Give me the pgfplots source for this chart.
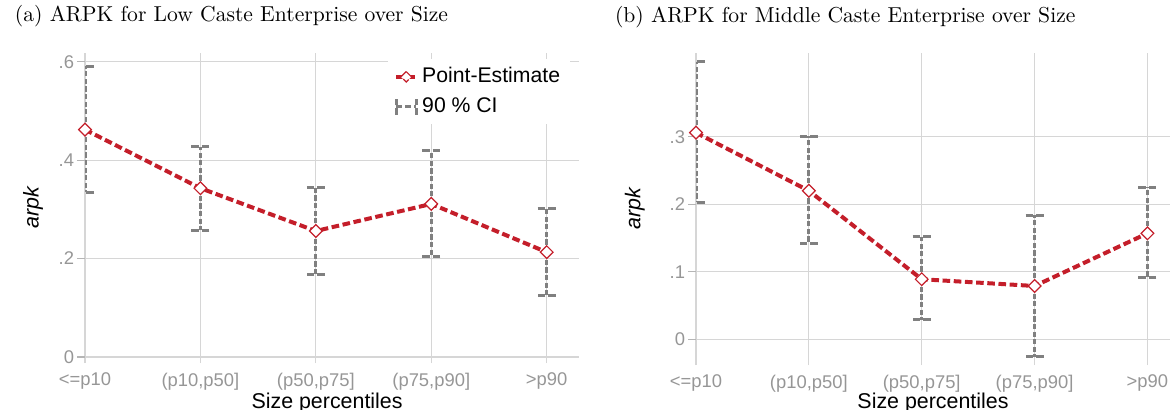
\documentclass[border=0pt]{standalone}
\usepackage{fontspec}
\newfontfamily\sans{Liberation Sans}
\usepackage{pgfplots}
\usepackage{pgfplotstable}
\pgfplotsset{compat=1.18}

\definecolor{estred}{RGB}{196,30,42}
\definecolor{cigray}{RGB}{128,128,128}
\definecolor{gridgray}{RGB}{214,214,214}
\definecolor{labgray}{RGB}{150,150,150}

% x = size class, y = point estimate, lo/hi = 90% CI
\pgfplotstableread{
x y lo hi
0 0.462 0.335 0.591
1 0.343 0.258 0.427
2 0.256 0.167 0.345
3 0.311 0.205 0.419
4 0.213 0.124 0.302
}\lowcaste

\pgfplotstableread{
x y lo hi
0 0.306 0.203 0.411
1 0.220 0.142 0.301
2 0.089 0.029 0.152
3 0.079 -0.026 0.184
4 0.157 0.091 0.225
}\midcaste

\pgfplotsset{
  arpkpanel/.style={
    scale only axis,
    anchor=south west,
    xmin=0,
    xtick={0,1,2,3,4},
    xticklabels={{<=p10},{(p10,p50]},{(p50,p75]},{(p75,p90]},{>p90}},
    axis line style={draw=none},
    tick pos=left, tick align=outside,
    xtick style={draw=none},
    ytick style={draw=labgray!70, line width=0.6pt},
    major tick length=4pt,
    grid=major, grid style={gridgray, line width=0.6pt},
    tick label style={font=\sans\fontsize{9.2}{11}\selectfont, text=labgray},
    xticklabel style={yshift=2.5pt},
    yticklabel style={inner sep=0pt, xshift=-1.3pt},
    label style={font=\sans\fontsize{10.7}{12}\selectfont},
    ylabel style={font=\sans\itshape\fontsize{10.7}{12}\selectfont, anchor=center},
    title style={font=\rmfamily\fontsize{10.8}{12}\selectfont, anchor=base west},
    xlabel={Size percentiles}, ylabel={arpk},
  },
  pointest/.style={
    estred, line width=2pt, dash pattern=on 3.8pt off 1.8pt,
    mark=square*, mark size=2.25pt,
    mark options={solid, rotate=45, fill=white, draw=estred, line width=0.6pt},
  },
  ci/.style={
    draw=none, mark=none,
    error bars/y dir=both, error bars/y explicit,
    error bars/error mark=|,
    error bars/error bar style={cigray, line width=1.5pt, dash pattern=on 2.6pt off 1.2pt},
    error bars/error mark options={cigray, mark size=4.5pt, line width=1.5pt, dash pattern=on 3.8pt off 1.4pt},
  },
  estlegend/.style={
    legend image code/.code={
      \draw[estred, line width=2pt] (0pt,0pt) -- (10pt,0pt);
      \draw[estred, fill=white, line width=0.6pt]
        (5pt,2.6pt) -- (7.6pt,0pt) -- (5pt,-2.6pt) -- (2.4pt,0pt) -- cycle;}
  },
  cilegend/.style={
    legend image code/.code={
      \draw[cigray, line width=1.5pt, dash pattern=on 3pt off 1.4pt] (0pt,0pt) -- (10pt,0pt);
      \draw[cigray, line width=1.5pt, dash pattern=on 3.3pt off 1.4pt] (0pt,-4pt) -- (0pt,4pt);
      \draw[cigray, line width=1.5pt, dash pattern=on 3.3pt off 1.4pt] (10pt,-4pt) -- (10pt,4pt);}
  },
}

\begin{document}
\begin{tikzpicture}[x=1pt,y=1pt]
\useasboundingbox (0,0) rectangle (585,204.5);

\begin{axis}[arpkpanel,
    at={(42.5pt,23pt)}, width=247pt, height=155pt,
    xmax=4.28, ymin=-0.0122, ymax=0.6177,
    ytick={0,0.2,0.4,0.6}, yticklabels={0,.2,.4,.6},
    title={(a) ARPK for Low Caste Enterprise over Size},
    title style={at={(axis description cs:-0.156,1.0613)}},
    xlabel style={at={(axis description cs:0.49,-0.146)}, anchor=base},
    ylabel style={at={(axis description cs:-0.105,0.5)}},
    legend style={at={(axis description cs:0.613,0.981)}, anchor=north west,
      draw=none, fill=white, font=\sans\fontsize{10.6}{12}\selectfont,
      nodes={text height=0.75em, text depth=0.2em}, row sep=1.5pt},
    legend cell align=left,
  ]
  \addplot[pointest, estlegend] table[x=x,y=y]{\lowcaste};
  \addlegendentry{Point-Estimate}
  \addplot[ci, cilegend]
    table[x=x,y=y,
      y error plus expr=\thisrow{hi}-\thisrow{y},
      y error minus expr=\thisrow{y}-\thisrow{lo}]{\lowcaste};
  \addlegendentry{90 \% CI}
\end{axis}

\begin{axis}[arpkpanel,
    at={(348pt,22pt)}, width=237pt, height=156pt,
    xmax=4.2, ymin=-0.038, ymax=0.424,
    ytick={0,0.1,0.2,0.3}, yticklabels={0,.1,.2,.3},
    title={(b) ARPK for Middle Caste Enterprise over Size},
    title style={at={(axis description cs:-0.1857,1.0609)}},
    xlabel style={at={(axis description cs:0.5,-0.139)}, anchor=base},
    ylabel style={at={(axis description cs:-0.129,0.5)}},
  ]
  \addplot[pointest] table[x=x,y=y]{\midcaste};
  \addplot[ci]
    table[x=x,y=y,
      y error plus expr=\thisrow{hi}-\thisrow{y},
      y error minus expr=\thisrow{y}-\thisrow{lo}]{\midcaste};
\end{axis}
\end{tikzpicture}
\end{document}
